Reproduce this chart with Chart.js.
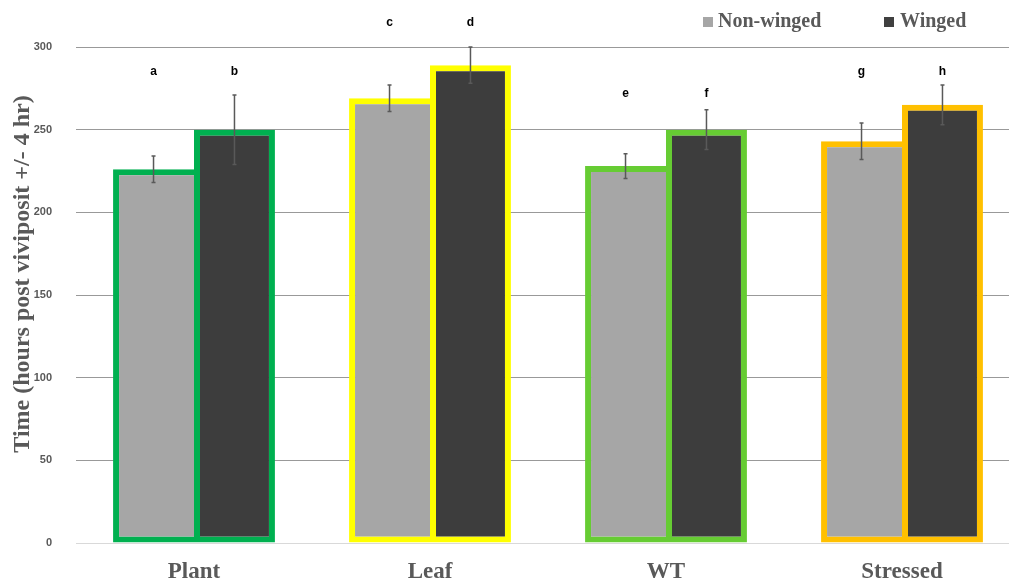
<!DOCTYPE html>
<html>
<head>
<meta charset="utf-8">
<script src="https://cdn.jsdelivr.net/npm/chart.js@4.4.1/dist/chart.umd.min.js"></script>
<style>
  html, body { margin: 0; padding: 0; background: #fff; overflow: hidden; }
  #wrap { width: 1024px; height: 581px; }
</style>
</head>
<body>
<div id="wrap"><canvas id="chart" width="1024" height="581"></canvas></div>
<script>
const categories = ['Plant', 'Leaf', 'WT', 'Stressed']
const nonWinged = [226, 269, 228, 243]
const winged = [250, 289, 250, 265]
const nonWingedErr = [8, 8, 7.5, 11]
const wingedErr = [21, 11, 12, 12]
const nonWingedLetters = ['a', 'c', 'e', 'g']
const wingedLetters = ['b', 'd', 'f', 'h']
const letterLevel = [285, 315, 272, 285]
const yTicks = [0, 50, 100, 150, 200, 250, 300]

const groupColors = ['#00b050', '#ffff00', '#66cc33', '#ffc000']
const textGray = '#595959'

// error bars, significance letters and the legend
const extras = {
  id: 'extras',
  afterDatasetsDraw(chart) {
    const ctx = chart.ctx
    const y = chart.scales.y
    const area = chart.chartArea
    const errs = [nonWingedErr, wingedErr]
    const vals = [nonWinged, winged]
    const letters = [nonWingedLetters, wingedLetters]

    ctx.save()
    errs.forEach((err, d) => {
      chart.getDatasetMeta(d).data.forEach((bar, i) => {
        const top = Math.max(y.getPixelForValue(vals[d][i] + err[i]), area.top)
        const bot = y.getPixelForValue(vals[d][i] - err[i])
        ctx.strokeStyle = '#595959'
        ctx.lineWidth = 1.5
        ctx.beginPath()
        ctx.moveTo(bar.x, top)
        ctx.lineTo(bar.x, bot)
        ctx.moveTo(bar.x - 2, top)
        ctx.lineTo(bar.x + 2, top)
        ctx.moveTo(bar.x - 2, bot)
        ctx.lineTo(bar.x + 2, bot)
        ctx.stroke()

        ctx.fillStyle = '#000'
        ctx.font = 'bold 12px "Liberation Sans"'
        ctx.textAlign = 'center'
        ctx.textBaseline = 'middle'
        ctx.fillText(letters[d][i], bar.x, y.getPixelForValue(letterLevel[i]))
      })
    })

    ctx.font = 'bold 20px "Liberation Serif"'
    ctx.textAlign = 'left'
    ctx.textBaseline = 'middle'
    ctx.fillStyle = '#a6a6a6'
    ctx.fillRect(703, 17, 10, 10)
    ctx.fillStyle = textGray
    ctx.fillText('Non-winged', 718, 22)
    ctx.fillStyle = '#404040'
    ctx.fillRect(884, 17, 10, 10)
    ctx.fillStyle = textGray
    ctx.fillText('Winged', 900, 22)
    ctx.restore()
  }
}

new Chart(document.getElementById('chart'), {
  type: 'bar',
  data: {
    labels: categories,
    datasets: [{
      label: 'Non-winged',
      data: nonWinged,
      backgroundColor: '#a6a6a6',
      borderColor: groupColors,
      borderWidth: 6,
      borderSkipped: 'right',
      categoryPercentage: 0.686,
      barPercentage: 1
    }, {
      label: 'Winged',
      data: winged,
      backgroundColor: '#3d3d3d',
      borderColor: groupColors,
      borderWidth: 6,
      borderSkipped: false,
      categoryPercentage: 0.686,
      barPercentage: 1
    }]
  },
  options: {
    responsive: false,
    animation: false,
    layout: {
      padding: { top: 47, left: 0, right: 4, bottom: 0 }
    },
    plugins: {
      legend: { display: false },
      tooltip: { enabled: false }
    },
    scales: {
      x: {
        afterFit(axis) { axis.height = 38 },
        grid: { display: false, drawTicks: false },
        border: { color: '#d9d9d9', width: 1 },
        ticks: {
          color: textGray,
          padding: 18,
          font: { family: '"Liberation Serif"', size: 23, weight: 'bold', lineHeight: 1 }
        }
      },
      y: {
        min: 0,
        max: 300,
        afterFit(axis) { axis.width = 76 },
        afterBuildTicks(axis) {
          axis.ticks = yTicks.map(v => ({ value: v }))
        },
        grid: {
          color: ctx => ctx.tick.value === 0 ? '#d9d9d9' : '#999999',
          drawTicks: false
        },
        border: { display: false },
        ticks: {
          color: textGray,
          padding: 24,
          font: { family: '"Liberation Sans"', size: 11, weight: 'bold' }
        },
        title: {
          display: true,
          text: '\u00a0\u00a0\u00a0\u00a0\u00a0\u00a0\u00a0Time (hours post viviposit +/- 4 hr)',
          color: textGray,
          padding: { top: 8, bottom: 0 },
          font: { family: '"Liberation Serif"', size: 24, weight: 'bold' }
        }
      }
    }
  },
  plugins: [extras]
})
</script>
</body>
</html>
